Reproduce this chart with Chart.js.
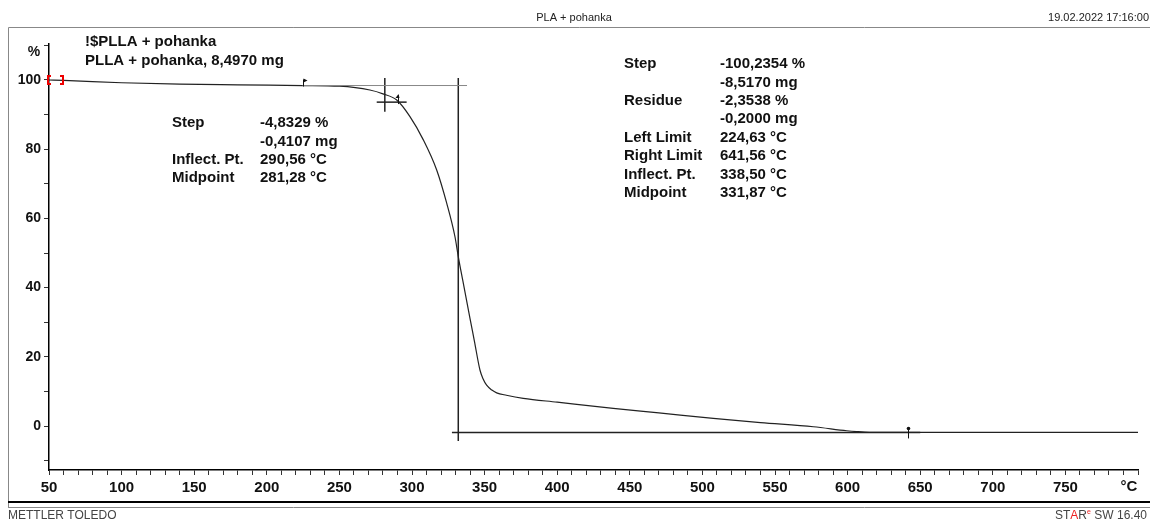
<!DOCTYPE html>
<html>
<head>
<meta charset="utf-8">
<script src="https://cdn.jsdelivr.net/npm/chart.js@4/dist/chart.umd.min.js"></script>
<style>
  html, body { margin: 0; padding: 0; background: #fff; }
  canvas { display: block; }
</style>
</head>
<body>
<canvas id="tgaChart" width="1150" height="522"></canvas>
<script>
// TGA curve: temperature (°C) vs. mass (%)
const temps = [50, 60, 100, 140, 180, 225, 250, 271, 280, 289.5, 298.6, 307.8, 317, 323.9, 329.6, 331.9, 335, 340, 343, 346.8, 349, 351.4, 355, 358.3, 365, 376.6, 400, 438.6, 470, 507.5, 540, 576.4, 599.4, 606.2, 615, 650, 700, 750, 800];
const massPct = [100, 99.9, 99.2, 98.8, 98.6, 98.4, 98.2, 97.1, 96.0, 94.2, 89.4, 82.7, 74.0, 64.4, 54.7, 48.9, 42, 31, 24.5, 16.2, 13.6, 11.8, 10.4, 9.6, 8.9, 8.0, 6.9, 5.1, 3.8, 2.2, 1.0, -0.2, -1.35, -1.6, -1.8, -1.85, -1.85, -1.85, -1.85];

// evaluation lines (x, y pairs)
const upperBaseX = [224.63, 337.9];
const upperBaseY = [98.4, 98.4];
const midLineX = [331.87, 331.87];
const midLineY = [100.6, -4.3];
const lowerBaseX = [327.5, 650];
const lowerBaseY = [-1.85, -1.85];
const crossVX = [281.28, 281.28];
const crossVY = [100.6, 90.8];
const crossHX = [275.7, 296.3];
const crossHY = [93.6, 93.6];

const leftLimit = 224.63;
const rightLimit = 641.56;
const inflectPt1 = 290.56;

// axes
const xMin = 50, xMax = 800;
const yMin = -12.7, yMax = 110.4;

const step1Text = [
  ['Step', '-4,8329 %'],
  ['', '-0,4107 mg'],
  ['Inflect. Pt.', '290,56 °C'],
  ['Midpoint', '281,28 °C']
];
const step2Text = [
  ['Step', '-100,2354 %'],
  ['', '-8,5170 mg'],
  ['Residue', '-2,3538 %'],
  ['', '-0,2000 mg'],
  ['Left Limit', '224,63 °C'],
  ['Right Limit', '641,56 °C'],
  ['Inflect. Pt.', '338,50 °C'],
  ['Midpoint', '331,87 °C']
];

const pts = (xs, ys) => xs.map((x, i) => ({ x: x, y: ys[i] }));
const BOLD = 'bold 15px "Liberation Sans", Arial, sans-serif';
const SMALL = '11px "Liberation Sans", Arial, sans-serif';

function line(ds, color, width) {
  return { data: ds, borderColor: color, borderWidth: width, pointRadius: 0, fill: false, tension: 0 };
}

const decorations = {
  id: 'decorations',
  afterDraw(chart) {
    const c = chart.ctx;
    const xs = chart.scales.x, ys = chart.scales.y;
    c.save();

    // frame
    c.strokeStyle = '#888';
    c.lineWidth = 1;
    c.beginPath();
    c.moveTo(8.5, 507); c.lineTo(8.5, 27.5); c.lineTo(1150, 27.5);
    c.moveTo(8, 507.5); c.lineTo(1150, 507.5);
    c.stroke();
    c.strokeStyle = '#000';
    c.lineWidth = 2;
    c.beginPath();
    c.moveTo(8, 502); c.lineTo(1150, 502);
    c.stroke();

    // header / footer
    c.fillStyle = '#222';
    c.font = SMALL;
    c.textBaseline = 'middle';
    c.textAlign = 'center';
    c.fillText('PLA + pohanka', 574, 18);
    c.textAlign = 'right';
    c.fillText('19.02.2022 17:16:00', 1149, 18);
    c.textAlign = 'left';
    c.fillStyle = '#444';
    c.font = '12px "Liberation Sans", Arial, sans-serif';
    c.fillText('METTLER TOLEDO', 8, 516);
    // STAR SW 16.40
    const parts = [['ST', '#444'], ['A', '#e22'], ['R', '#444']];
    let tail = ' SW 16.40';
    let wTail = c.measureText(tail).width;
    let x0 = 1148 - wTail - 5;
    let wStar = parts.reduce((s, p) => s + c.measureText(p[0]).width, 0);
    let px = x0 - wStar;
    parts.forEach(p => { c.fillStyle = p[1]; c.fillText(p[0], px, 516); px += c.measureText(p[0]).width; });
    c.fillStyle = '#e22';
    c.font = '7px "Liberation Sans", Arial, sans-serif';
    c.fillText('e', px, 512);
    c.fillStyle = '#444';
    c.font = '12px "Liberation Sans", Arial, sans-serif';
    c.fillText(tail, x0 + 4, 516);

    // sample name
    c.fillStyle = '#111';
    c.font = BOLD;
    c.fillText('!$PLLA + pohanka', 85, 42);
    c.fillText('PLLA + pohanka, 8,4970 mg', 85, 61);

    // axis units
    c.textAlign = 'center';
    c.font = 'bold 14px "Liberation Sans", Arial, sans-serif';
    c.fillText('%', 34, 52);
    c.font = BOLD;
    c.fillText('°C', 1129, 487);

    // result tables
    c.textAlign = 'left';
    step1Text.forEach((r, i) => {
      c.fillText(r[0], 172, 123 + i * 18.4);
      c.fillText(r[1], 260, 123 + i * 18.4);
    });
    step2Text.forEach((r, i) => {
      c.fillText(r[0], 624, 64 + i * 18.4);
      c.fillText(r[1], 720, 64 + i * 18.4);
    });

    // red start brackets
    const bx0 = xs.getPixelForValue(xMin), by = ys.getPixelForValue(100);
    c.strokeStyle = '#e00';
    c.lineWidth = 2;
    c.beginPath();
    c.moveTo(bx0 + 2, by - 4); c.lineTo(bx0 - 1, by - 4); c.lineTo(bx0 - 1, by + 4); c.lineTo(bx0 + 2, by + 4);
    c.moveTo(bx0 + 11, by - 4); c.lineTo(bx0 + 14, by - 4); c.lineTo(bx0 + 14, by + 4); c.lineTo(bx0 + 11, by + 4);
    c.stroke();

    // limit / inflection markers
    c.strokeStyle = '#111';
    c.fillStyle = '#111';
    c.lineWidth = 1;
    const lx = Math.round(xs.getPixelForValue(leftLimit)) + 0.5, ly = ys.getPixelForValue(upperBaseY[0]);
    c.beginPath(); c.moveTo(lx, ly - 6); c.lineTo(lx, ly + 1); c.stroke();
    c.beginPath(); c.moveTo(lx, ly - 7); c.lineTo(lx + 4, ly - 5); c.lineTo(lx, ly - 3); c.fill();

    const ix = Math.round(xs.getPixelForValue(inflectPt1)) + 0.5, iy = ys.getPixelForValue(94.2);
    c.beginPath(); c.moveTo(ix, iy - 5); c.lineTo(ix, iy + 4); c.stroke();
    c.beginPath(); c.moveTo(ix - 3, iy - 2); c.lineTo(ix, iy - 6); c.lineTo(ix + 1, iy - 2); c.fill();

    const rx = Math.round(xs.getPixelForValue(rightLimit)) + 0.5, ry = ys.getPixelForValue(lowerBaseY[0]);
    c.beginPath(); c.moveTo(rx, ry - 5); c.lineTo(rx, ry + 6); c.stroke();
    c.beginPath(); c.arc(rx, ry - 4, 1.8, 0, Math.PI * 2); c.fill();

    c.restore();
  }
};

new Chart(document.getElementById('tgaChart'), {
  type: 'line',
  data: {
    datasets: [
      line(pts(upperBaseX, upperBaseY), '#888', 1),
      line(pts(midLineX, midLineY), '#222', 1.5),
      line(pts(lowerBaseX, lowerBaseY), '#222', 1.5),
      line(pts(crossVX, crossVY), '#222', 1.5),
      line(pts(crossHX, crossHY), '#222', 1.5),
      Object.assign(line(pts(temps, massPct), '#222', 1.2), { cubicInterpolationMode: 'monotone' })
    ]
  },
  options: {
    responsive: false,
    devicePixelRatio: 1,
    animation: false,
    layout: { padding: { left: 0, top: 44, right: 12, bottom: 22 } },
    plugins: { legend: { display: false }, tooltip: { enabled: false } },
    scales: {
      x: {
        type: 'linear',
        min: xMin,
        max: xMax,
        afterFit: s => { s.height = 30; },
        border: { display: true, color: '#000', width: 1.5 },
        grid: { drawOnChartArea: false, tickLength: 5, color: '#333' },
        ticks: {
          stepSize: 10,
          autoSkip: false,
          maxRotation: 0,
          padding: 4,
          color: '#111',
          font: { family: '"Liberation Sans", Arial, sans-serif', size: 15, weight: 'bold' },
          callback: v => (v % 50 === 0 && v !== xMax) ? v : ''
        }
      },
      y: {
        min: yMin,
        max: yMax,
        afterFit: s => { s.width = 49; },
        border: { display: true, color: '#000', width: 1.5 },
        grid: { drawOnChartArea: false, tickLength: 5, color: '#333' },
        ticks: {
          stepSize: 10,
          includeBounds: false,
          padding: 3,
          color: '#111',
          font: { family: '"Liberation Sans", Arial, sans-serif', size: 14, weight: 'bold' },
          callback: v => (v % 20 === 0 && v >= 0 && v <= 100) ? v : ''
        }
      }
    }
  },
  plugins: [decorations]
});
</script>
</body>
</html>
